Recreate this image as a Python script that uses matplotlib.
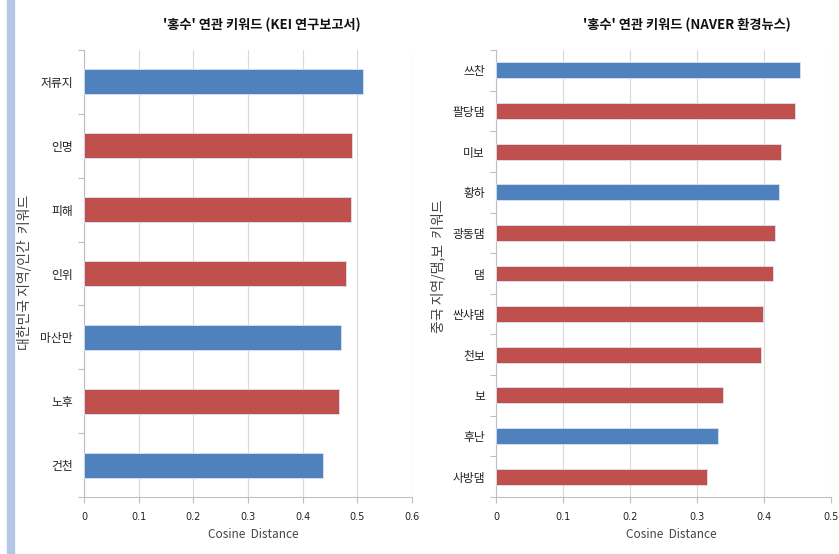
import matplotlib
matplotlib.use("Agg")
import matplotlib.pyplot as plt
from matplotlib.patches import Rectangle
import numpy as np

plt.rcParams['font.family'] = ['Noto Sans CJK KR', 'DejaVu Sans']

BLUE = '#4F81BD'
RED = '#C0504D'

# KEI research reports
kei_terms = ['저류지', '인명', '피해', '인위', '마산만', '노후', '건천']
kei_values = [0.510, 0.491, 0.489, 0.480, 0.471, 0.467, 0.437]
kei_groups = ['region', 'human', 'human', 'human', 'region', 'human', 'region']

# NAVER environment news
naver_terms = ['쓰찬', '팔당댐', '미보', '황하', '광동댐', '댐', '싼샤댐', '천보', '보', '후난', '사방댐']
naver_values = [0.454, 0.447, 0.426, 0.422, 0.417, 0.414, 0.398, 0.396, 0.339, 0.331, 0.315]
naver_groups = ['region', 'dam', 'dam', 'region', 'dam', 'dam', 'dam', 'dam', 'dam', 'region', 'dam']

kei_ticks = [0, 0.1, 0.2, 0.3, 0.4, 0.5, 0.6]
naver_ticks = [0, 0.1, 0.2, 0.3, 0.4, 0.5]

group_colors = {'region': BLUE, 'human': RED, 'dam': RED}

W, H = 839, 554
fig = plt.figure(figsize=(W / 100, H / 100), dpi=100)

# light blue strip along the left edge
fig.add_artist(Rectangle((7 / W, 0), 7 / W, 1, transform=fig.transFigure,
                         color='#B4C7E7', zorder=0))


def px(x, y):
    return x / W, 1 - y / H


def panel(x0, x1, terms, values, groups, ticks, title, title_x,
          ylabel, ylabel_x, ylabel_y, xlabel_x):
    top, bottom = 50, 497
    ax = fig.add_axes([x0 / W, 1 - bottom / H, (x1 - x0) / W, (bottom - top) / H])
    n = len(terms)
    pos = np.arange(n)[::-1]
    colors = [group_colors[g] for g in groups]
    ax.barh(pos, values, height=0.39, color=colors,
            edgecolor='#D9E2F0', linewidth=0.6, zorder=3)
    ax.set_xlim(ticks[0], ticks[-1])
    ax.set_ylim(-0.5, n - 0.5)
    ax.set_xticks(ticks)
    ax.set_xticklabels([f'{t:g}' for t in ticks], fontsize=7, color='#222222',
                       family=['Liberation Sans Narrow', 'DejaVu Sans'])
    ax.set_yticks(pos)
    ax.set_yticklabels(terms, fontsize=8.5, color='#222222')
    ax.set_yticks(np.arange(n + 1) - 0.5, minor=True)
    ax.tick_params(axis='y', which='major', length=0, pad=8)
    ax.tick_params(axis='y', which='minor', length=4, color='#BFBFBF', width=0.8)
    ax.tick_params(axis='x', length=4, color='#BFBFBF', width=0.8, pad=7)
    ax.grid(axis='x', color='#D9D9D9', linewidth=0.8, zorder=0)
    for s in ['top', 'right']:
        ax.spines[s].set_visible(False)
    for s in ['left', 'bottom']:
        ax.spines[s].set_color('#BFBFBF')
        ax.spines[s].set_linewidth(0.8)
    fig.text(*px(xlabel_x, 535), 'Cosine  Distance', ha='center', va='center',
             fontsize=8.5, color='#444444')
    fig.text(*px(title_x, 25), title, ha='center', va='center',
             fontsize=9.5, fontweight='bold', color='#111111')
    fig.text(*px(ylabel_x, ylabel_y), ylabel, rotation=90, ha='center', va='center',
             fontsize=10, color='#444444')
    return ax


panel(84, 412, kei_terms, kei_values, kei_groups, kei_ticks,
      "'홍수' 연관 키워드 (KEI 연구보고서)", 262,
      '대한민국 지역/인간  키워드', 25, 272, 253)
panel(496, 831, naver_terms, naver_values, naver_groups, naver_ticks,
      "'홍수' 연관 키워드 (NAVER 환경뉴스)", 687,
      '중국 지역/댐,보  키워드', 438, 266, 671)

fig.savefig('out.png', dpi=100)
